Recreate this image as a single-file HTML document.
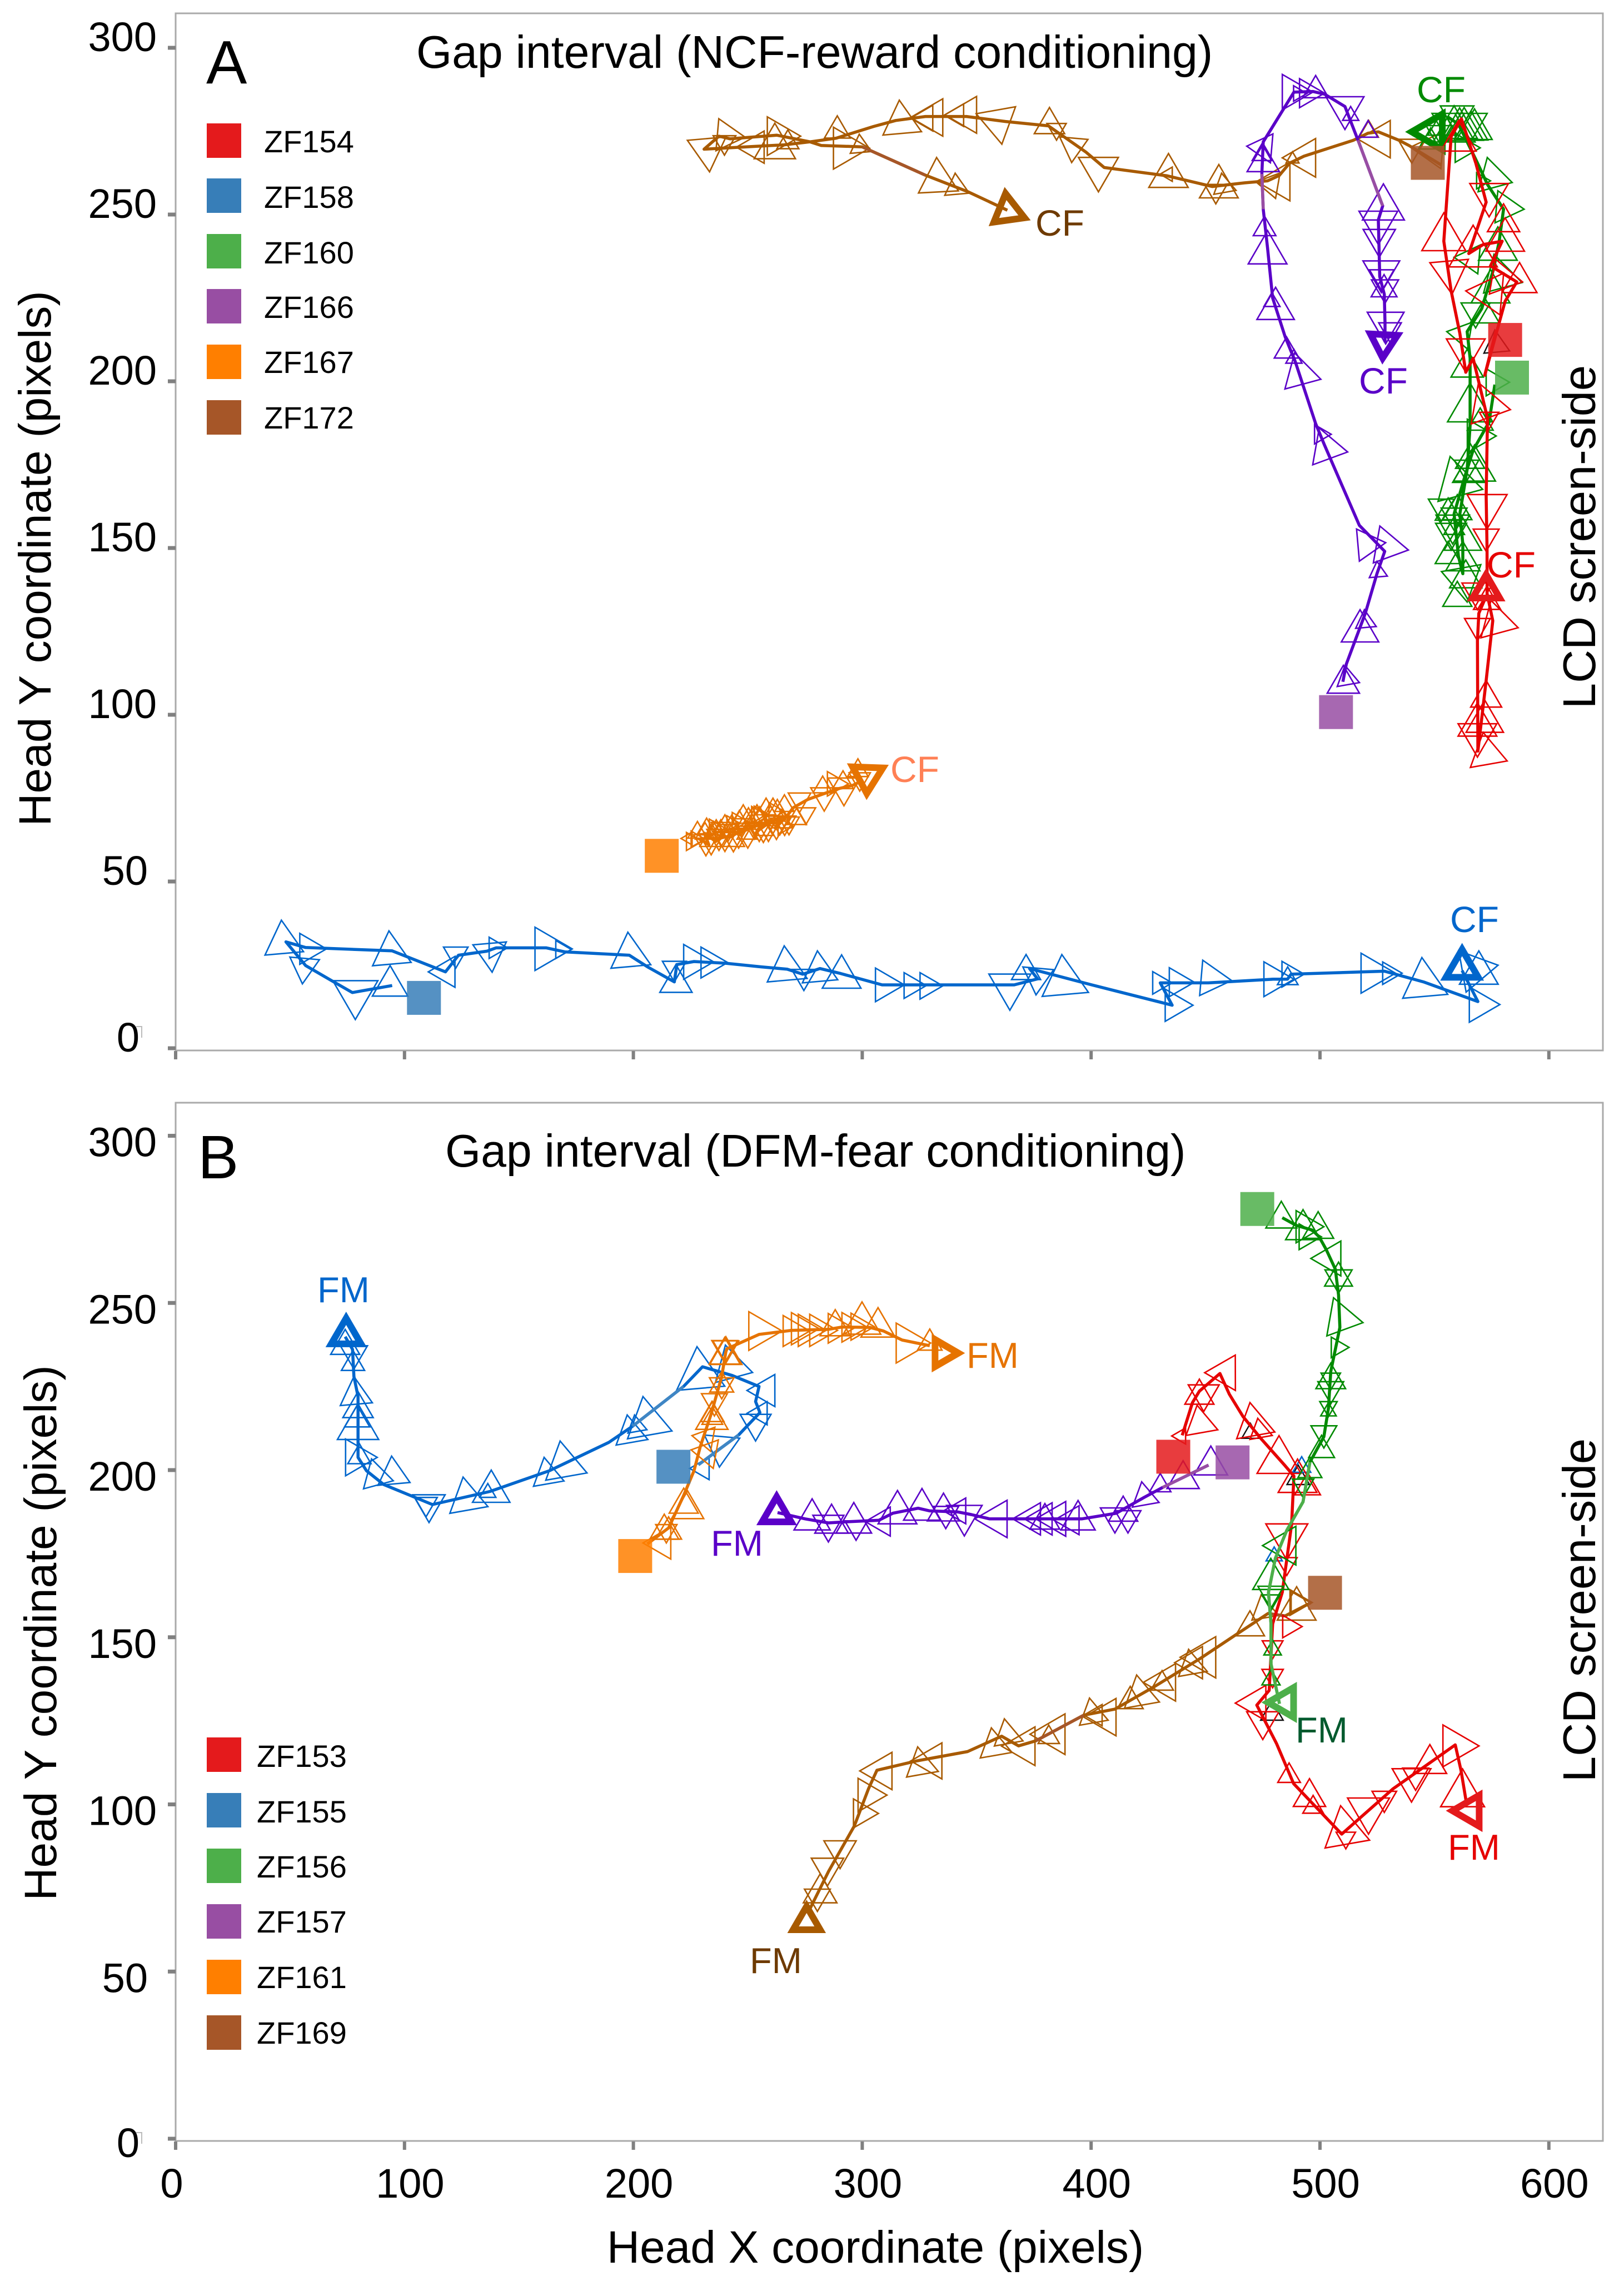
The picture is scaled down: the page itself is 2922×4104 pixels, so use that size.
<!DOCTYPE html>
<html lang="en">
<head>
<meta charset="utf-8">
<title>Head trajectories during gap interval</title>
<style>
html,body{margin:0;padding:0;background:#fff;}
svg{display:block;}
text{font-family:"Liberation Sans",sans-serif;fill:#000;}
</style>
</head>
<body>
<svg id="chart" xmlns="http://www.w3.org/2000/svg" width="2922" height="4104" viewBox="0 0 2922 4104">
<rect x="0" y="0" width="2922" height="4104" fill="#fff"/>

<g id="panelA">
<rect x="316" y="24" width="2568" height="1866" fill="none" stroke="#aaaaaa" stroke-width="3"/>
<g id="axesA"></g>
<g id="marksA"></g>
<text x="371" y="150" font-size="110">A</text>
<text x="749" y="122" font-size="82.4">Gap interval (NCF-reward conditioning)</text>
<text transform="translate(91,1005) rotate(-90)" text-anchor="middle" font-size="82">Head Y coordinate (pixels)</text>
<text transform="translate(2870,966) rotate(-90)" text-anchor="middle" font-size="83">LCD screen-side</text>
<g font-size="56">
<rect x="372" y="222" width="62" height="62" fill="#e41a1c"/><text x="475" y="274">ZF154</text>
<rect x="372" y="321" width="62" height="62" fill="#377eb8"/><text x="475" y="374">ZF158</text>
<rect x="372" y="421" width="62" height="62" fill="#4daf4a"/><text x="475" y="474">ZF160</text>
<rect x="372" y="520" width="62" height="62" fill="#984ea3"/><text x="475" y="572">ZF166</text>
<rect x="372" y="620" width="62" height="62" fill="#ff7f00"/><text x="475" y="671">ZF167</text>
<rect x="372" y="720" width="62" height="62" fill="#a65628"/><text x="475" y="771">ZF172</text>
</g>
<g font-size="66">
<text x="2609" y="1677" style="fill:#0066cc">CF</text>
<text x="1602" y="1407" style="fill:#ff8055">CF</text>
<text x="1863" y="424" style="fill:#6e3a00">CF</text>
<text x="2549" y="184" style="fill:#008a00">CF</text>
<text x="2445" y="708" style="fill:#5a00c8">CF</text>
<text x="2675" y="1039" style="fill:#e60000">CF</text>
</g>
</g>

<g id="panelB">
<rect x="316" y="1984" width="2568" height="1868" fill="none" stroke="#aaaaaa" stroke-width="3"/>
<g id="axesB"></g>
<g id="marksB"></g>
<text x="356" y="2120" font-size="110">B</text>
<text x="801" y="2099" font-size="82.4">Gap interval (DFM-fear conditioning)</text>
<text transform="translate(101,2938) rotate(-90)" text-anchor="middle" font-size="82">Head Y coordinate (pixels)</text>
<text transform="translate(2870,2897) rotate(-90)" text-anchor="middle" font-size="83">LCD screen-side</text>
<text x="1575" y="4071" text-anchor="middle" font-size="82">Head X coordinate (pixels)</text>
<g font-size="56">
<rect x="372" y="3126" width="62" height="62" fill="#e41a1c"/><text x="462" y="3179">ZF153</text>
<rect x="372" y="3226" width="62" height="62" fill="#377eb8"/><text x="462" y="3279">ZF155</text>
<rect x="372" y="3326" width="62" height="62" fill="#4daf4a"/><text x="462" y="3378">ZF156</text>
<rect x="372" y="3426" width="62" height="62" fill="#984ea3"/><text x="462" y="3477">ZF157</text>
<rect x="372" y="3526" width="62" height="62" fill="#ff7f00"/><text x="462" y="3577">ZF161</text>
<rect x="372" y="3626" width="62" height="62" fill="#a65628"/><text x="462" y="3677">ZF169</text>
</g>
<g font-size="65">
<text x="571" y="2343" style="fill:#0066cc">FM</text>
<text x="1739" y="2461" style="fill:#e67300">FM</text>
<text x="1279" y="2799" style="fill:#5a00c8">FM</text>
<text x="2331" y="3135" style="fill:#005a2e">FM</text>
<text x="2605" y="3346" style="fill:#e60000">FM</text>
<text x="1349" y="3550" style="fill:#6e3a00">FM</text>
</g>
</g>
</svg>

<script>
/* ---------- axis data ---------- */
const xTickValues = [0,100,200,300,400,500,600];
const yTickValues = [0,50,100,150,200,250,300];
const xTickLabels = ['0','100','200','300','400','500','600'];
const yTickLabels = ['0','50','100','150','200','250','300'];

/* ---------- start squares ---------- */
const panelAIds = ['zf154','zf158','zf160','zf166','zf167','zf172'];
const panelAStartX = [580.9,108.5,583.9,507,212.4,547.1];
const panelAStartY = [212.4,15.1,201.1,100.8,57.7,265.5];
const panelBIds = ['zf153','zf155','zf156','zf157','zf161','zf169'];
const panelBStartX = [435.9,217.5,472.6,461.8,200.8,502.2];
const panelBStartY = [204,201,278.1,202.3,174.3,163.3];

/* ---------- panel A trajectories: head x, head y ---------- */
const zf158X = [94.6,77.2,68.1,56.8,48.2,56.8,94.6,117.9,123.6,136,140,162,170,198.2,206.2,217.9,219,226.5,240.1,255.9,267.2,274,281.5,290.6,308.7,366.4,376.6,373.1,400.3,435.4,430.2,451.2,479.5,485.8,487.4,528.2,545.2,569,562.1];
const zf158Y = [18.8,16.7,20.3,24.8,31.9,30.2,29.2,22.9,27.9,29.1,30.1,30.1,28.9,27.9,24.4,19.9,25.1,26,25.5,24.4,23.7,22.2,23.9,22.4,19,19,20.8,23.9,19,12.9,19.6,19.6,20.7,20.7,22.2,23.1,19.9,14,23.3];
/* arrows: x, y, heading (deg), speed */
const zf158Arrows = [[46.2,38.4,95,60],[65.9,29.8,0,48],[55.4,19.3,-95,46],[78.5,8.6,-90,70],[93.7,24.8,90,55],[93.2,35.2,95,60],[110.4,22.9,180,48],[122.4,24,-90,38],[138.3,22.8,-85,52],[145,30.1,0,33],[173.3,29.8,0,67],[172.9,29.6,0,28],[197.6,34.8,95,62],[218.6,25.1,90,50],[217.9,19.9,-90,37],[235.1,25.9,0,54],[241.2,25.7,0,48],[265.9,30.7,95,62],[274.5,17.3,-90,38],[280.4,29.2,95,55],[291,28,90,60],[318.4,19,0,52],[328,18.8,0,40],[335.2,18.7,0,41],[364.5,11.4,-90,65],[371.6,28.1,90,45],[375.9,16,-95,48],[387.2,28.1,95,72],[435.4,19.6,0,35],[445.1,19.8,0,45],[444.5,12.9,0,50],[461.4,20.3,-5,55],[488.6,20.7,0,54],[493.1,22.2,0,40],[485.9,24.4,90,32],[533,22.5,0,62],[535.9,22.5,0,35],[544.5,27.2,95,70],[577.8,24.9,10,65],[569.4,29.2,90,60],[578.6,13.1,0,55]];
const zf158End = [562.1,29.6,90,50];

const zf167X = [228.9,233,231,236,240,238,244,249,246,253,257,254,260,264,262,267,269.8,276.2,283.5,290,295.7,300.5];
const zf167Y = [62.9,61,64.5,62,65,63,64,66,64.5,66.5,67.5,65,68,69,66,69.5,72.1,74.6,76.4,77.9,78.8,80.4];
const zf167Arrows = [[220.8,62.9,180,20],[231.3,62.7,0,25],[231.3,67.7,90,30],[236.2,68.5,90,32],[238.2,68.5,90,32],[246.7,67.4,0,24],[246.3,71.3,90,32],[250.3,72.1,90,33],[259.6,69.9,0,28],[262.9,74.6,90,30],[272.6,70.7,-90,35],[271.4,72.1,90,30],[282.7,81.6,90,30],[294,79.3,0,38],[292,72.7,-90,50],[291.6,83.2,90,32],[298.1,86.8,90,32],[298.9,77.1,-90,33],[283.4,71.1,-90,42],[262.5,62.6,-90,35],[266.1,63.8,-90,35],[256.8,61.7,-90,30],[243.7,58.9,-90,40],[231.7,57.7,-90,38],[237.4,59.3,-90,38],[243.9,66,90,33],[233.7,66,90,33],[249.5,67.7,90,30],[256.8,68.8,90,30],[260,72.7,90,30],[264.9,71.6,90,33],[252.8,62.7,-90,30],[247.1,63.8,-90,30],[252,72.1,90,33],[255.2,72.4,90,33],[241.4,62.1,-90,30],[238.2,62.7,-90,30],[269.8,66.6,0,27],[275.4,67.1,-90,30],[228,68,90,30],[240,70,90,32],[243,70,90,30],[248,73,90,33],[254,73,90,32],[258,75,90,30],[261,75,90,32],[266,76,90,30],[235,68,90,30],[232,69,90,28],[234,58,-90,36],[240,59,-90,36],[246,60,-90,34],[250,60,-90,34],[255,62,-90,32],[259,62,-90,32],[264,64,-90,30],[268,64,-90,32],[240,66,0,28],[250,68,0,28],[258,70,0,26],[266,71,0,28],[230,62,0,28]];
const zf167End = [302,76.4,-92,47];

const zf172X = [552.9,538.9,534.4,525.5,521,514.7,493,486.7,482.2,477.1,467,452.9,433.3,405.7,397.6,381.3,362.6,345.5,327.6,314.6,304.9,288.6,277.2,262.6,242.3,237.4,230.9,252,265.8,277.2,282.1,300,327.6,346.3,363.4];
const zf172Y = [264.9,270.7,272.3,274.8,274.4,272.3,267.5,265.4,261.7,260.1,259.5,258.4,261.6,264.1,268.8,276.6,277.9,279.4,279.4,278.2,276.4,272.9,271.8,273.8,272.7,273.5,269.6,270.4,270.9,271.8,270.7,270.3,261.8,256.8,251.3];
const zf172Arrows = [[455.8,265,90,60],[457,262.4,100,35],[454.5,253.2,-90,35],[433.8,268.3,90,61],[430.1,262.1,180,22],[403.2,256.8,-90,62],[391.5,265.6,-95,44],[381.8,282.1,90,47],[384.9,272.3,-90,30],[361,271.1,-80,62],[336.1,279.9,180,57],[335.8,279.8,180,35],[321.1,279.1,180,58],[321.1,278.9,180,40],[316.2,284.3,95,60],[289.1,279.6,90,40],[303.2,269.9,0,65],[298.7,274.1,95,33],[273.1,273.5,0,60],[261.8,277.4,90,64],[267.5,275.4,90,34],[245,270.2,180,50],[248.8,273.2,-5,50],[239.8,267.8,-90,35],[233.3,262.8,-85,60],[332.5,267.1,93,62],[340.6,262.4,95,38],[472,259.8,170,40],[472.3,259.9,180,60],[483.5,267,180,60],[488,268.8,90,20],[521.3,278.2,90,30],[516.6,272.6,180,58],[540.1,265.4,-90,43],[539.5,270.2,175,58]];
const zf172End = [362.6,256.3,98,48];

const zf166X = [510,511.5,519.8,524.9,528.3,517.2,501.9,498.1,489.2,484.8,479.3,477.1,475.2,474.6,475.2,479,488.6,496.9,502,510.9,516.6,527.4,525.5,526.1,528.1,528.4,528.4];
const zf166Y = [109.9,115.2,130.4,142.3,149,156.8,181,187.3,205.9,213.3,225,239.9,251.6,262.2,271.8,276,286.7,286.9,286.1,282.4,272.3,252.6,248.4,231.4,226.1,217.6,211.7];
const zf166Arrows = [[510.2,114.8,90,50],[510.9,114.8,100,35],[517.5,131.5,90,58],[519.4,131.5,95,32],[528.7,151.6,5,50],[538.6,149.4,-10,58],[524.9,146,95,28],[504.9,184.1,0,30],[512.1,178.8,-10,58],[485.4,213.3,90,38],[488.6,209.6,90,25],[500.4,200.6,-15,58],[480.6,228.2,90,58],[479,226.6,90,25],[477.1,245.2,90,60],[475.8,249.5,90,35],[468,270.5,175,45],[475.2,271.2,90,50],[474.6,271.2,90,30],[496.9,286.7,0,55],[494.3,286.3,0,24],[502,286.4,0,45],[498.1,291.7,90,40],[510.9,275.5,-90,59],[513.4,282.4,90,25],[521,278.2,90,30],[527.7,259.2,90,65],[525.5,241,-90,60],[525.9,237.2,-90,50],[526.8,226.6,-90,57],[527,227.1,-90,38],[528,232,90,40],[528.4,223.4,-90,42],[528.7,211.2,-90,57],[530.6,211.7,-90,35]];
const zf166End = [527.4,207,-93,42];

const zf160X = [576.4,573.9,566.9,563,558.6,558.6,560.5,562.4,562.4,561.1,564.3,565.6,565.6,564.3,570.7,575.8,578.3,580.2,573.2,568.1,560.5,556];
const zf160Y = [199,187.8,179.3,170.8,160.2,160.2,147.5,142.3,151.2,160.2,173.6,186.7,206.9,214.9,221.8,233.5,242,251.6,259,266.5,277.1,279.2];
const zf160Arrows = [[559.9,273.9,-90,52],[558.6,282.6,90,65],[563,282.1,90,59],[575.2,272.5,-30,55],[548.4,276,90,38],[553.5,281.3,90,45],[584,259.6,-15,55],[574.5,260.1,0,25],[589.2,251.6,-5,50],[577.7,246.3,90,60],[558.6,237.2,175,45],[574.5,233.5,90,60],[588.3,229.6,-15,62],[555.4,214.9,170,42],[564.3,209.6,90,50],[565.6,199.5,90,70],[582.8,199.7,0,42],[577,183.6,0,52],[565.6,181.4,90,45],[567.5,180.9,90,65],[571.1,167.6,-15,72],[558.6,155.3,-90,40],[558,151.2,-90,52],[557.3,149.4,-90,48],[558.6,159.4,90,32],[562.4,159,90,58],[562.4,152,90,53],[563.7,146.4,90,50],[564.3,133.8,-80,62],[556,272,-90,50],[566,272,-90,50],[561,282,90,55],[566,281,90,52],[552,270,-90,40],[570,270,0,45],[556,165,90,40],[560,166,90,45],[553,158,-90,40],[564,170,-90,38],[560,140,90,45],[556,152,90,40],[565,178,90,50],[570,192,90,40],[568,216,-90,45],[572,225,90,45]];
const zf160End = [540.1,274.8,180,55];

const zf154X = [577,572,580.9,586,574.5,579.6,571.3,565,572.6,568.1,561.8,557.3,554.1,557.3,561.1,563.7,566.9,573.2,572.6,573,573,575.5,572.6,569,568.8,569.4,572.6];
const zf154Y = [215.4,201.8,224,229.8,234.6,242,241,238.3,253.7,265.4,278.7,273.4,242,227.1,214.4,202.7,206.9,188.9,165.5,149.7,136.4,128.2,110.3,89.1,122.2,130.4,135.6];
const zf154Arrows = [[568.8,131.5,-90,48],[573,138.6,90,42],[568.8,122.2,-90,40],[586.6,126.1,-15,60],[572.6,110.3,90,48],[572,104.4,90,58],[568.8,103.6,90,60],[568.8,87.3,-90,60],[571.3,94.7,100,58],[573,155.7,-90,62],[572.6,149,-90,40],[554.1,250.5,90,68],[557.7,226.1,-85,60],[563.7,202.7,-90,60],[580.2,253.2,90,50],[580.9,249,90,60],[573.9,249.3,-90,60],[587.2,235.6,90,54],[563.7,227.1,175,65],[588.5,229.8,-10,55],[566.9,246.8,90,75],[560.5,278.2,90,55],[583.2,191.5,-10,65],[573.9,185.7,-90,30]];
const zf154End = [572.6,142,90,42];
const panelAStrayArrows = [[576.4,215.4,95,40]];

/* ---------- panel B trajectories ---------- */
const zf155X = [228.4,246,255.3,253.4,254.9,243.2,230.2,221.9,199.6,189.3,163.3,137.3,112.2,90.9,83.4,79.7,79.7,79.7,77.9,77.3,74.1];
const zf155Y = [201.6,210.5,217.2,220.5,225,228.3,230.9,225,213.1,208.3,199.8,193.6,189.7,195.7,199.8,203.8,210.2,222,228,236.1,239.9];
const zf155Arrows = [[74.1,242.1,90,45],[77.9,230.2,-90,42],[77.5,235.8,90,36],[77.9,228,95,50],[79.7,223.5,90,47],[79.3,219.4,90,39],[79.7,219.8,90,64],[88.1,203.8,0,57],[80.3,207.9,90,36],[95.1,196.8,-15,48],[102.4,196.3,-25,50],[110.7,184.3,-90,50],[109.4,186,-90,35],[125.6,197.9,100,60],[137.9,200,90,58],[136.4,196,90,25],[161,203.8,100,48],[168,208.7,100,65],[197.3,216.5,100,50],[204.2,222,100,70],[200.5,216.5,100,30],[227.8,236.9,95,75],[252.1,229.2,-15,60],[261.8,228.6,60,50],[249.7,217,180,36],[253.4,208.7,-90,48],[237.6,200.9,-95,55],[224.6,200.5,180,35],[492,204,90,28],[480,177,90,25]];
const zf155End = [74.5,245.4,90,46];

const zf161X = [206.1,215.4,221.9,226.5,229.3,234,238.6,240.4,240.9,255,269.1,285.2,291.2,303.3,309.3,317.4,329.5];
const zf161Y = [177.9,182.7,192.3,199.8,207.2,216.8,228,235.4,236.3,240.6,241.8,242.1,242.8,242.7,241.6,238.9,237.2];
const zf161Arrows = [[204.2,178.2,180,50],[213.5,186.8,90,45],[215.4,186,90,40],[214.4,178.2,-90,33],[222,194.6,90,45],[223.7,193.8,90,50],[234.9,200.5,-70,45],[234.3,220.5,90,50],[234.5,219,90,32],[234.5,220.5,90,36],[225.6,210.3,170,38],[235.4,216.2,-90,40],[238.6,229.5,90,37],[238.6,221.3,-90,38],[240.4,239.9,90,50],[240.4,232,-90,40],[239.9,239.7,90,48],[239.9,232.1,-90,40],[265,241.6,0,60],[277.1,241.6,0,48],[281.2,242.3,0,50],[284.2,241.8,0,50],[289.2,241.8,0,50],[296.3,242.4,0,46],[302.3,242.7,0,46],[305.3,242.9,0,42],[299.9,250.3,90,58],[306.9,248.6,90,53],[288.2,248,90,47],[329.9,238,0,62],[329.5,242.2,90,38],[339.5,235,0,30]];
const zf161End = [342,235,0,42];

const zf157X = [451.3,431.2,423.1,411,395.9,355.7,347.6,341.6,329.5,324.4,313.4,307.3,295.2,285.2,275.1,263];
const zf157Y = [201.5,194.8,191.8,187.1,185.4,185.4,186.7,187.5,187.8,188.6,187.1,185,184.6,184.2,185.4,187.3];
const zf157Arrows = [[278.1,191.4,90,56],[286.6,189.8,90,52],[296.3,190.3,90,55],[285.2,178.5,-90,48],[297.3,179,-90,35],[301.3,184.6,180,45],[315.4,193.9,90,60],[326.1,194.5,90,57],[335.5,193.1,90,50],[336.5,182.5,-90,40],[335.5,187.8,180,40],[344.6,180.3,-90,55],[349.2,185.4,180,58],[365.7,185.4,180,50],[370.8,185.4,180,50],[375.8,185.4,180,54],[383.8,185,180,45],[379.8,190,90,46],[394.3,190.9,90,53],[410.4,181.2,-90,45],[416.1,181.2,-90,40],[414,192.2,90,45],[422.1,196.5,100,42],[430.2,199,90,33],[440.2,202.8,90,50],[452.3,207.2,90,52]];
const zf157End = [262.6,192,90,45];

const zf153X = [439.8,444.3,447.3,456.3,460.4,466.4,474.5,484.5,488.6,487.6,483.5,479.3,477.8,472.4,481,488.5,509.5,531.8,559.1,561.6,564.1];
const zf153Y = [210.4,220.2,223.6,228.9,222.7,216,209.2,201.5,198.2,183.7,163.4,154,134.1,129.7,118.2,106.2,91.1,104.6,117.8,110.2,99.9];
const zf153Arrows = [[463,234.4,60,55],[447.3,227.2,90,45],[449.2,217.5,-90,48],[446.3,219.4,100,50],[435.2,210.2,180,25],[469.4,220.2,100,60],[472.8,215.5,100,35],[482.1,210.3,90,68],[490.2,203.3,90,60],[500.2,192.6,-30,40],[485.5,173.1,-90,65],[485.5,168.5,-90,32],[492.2,153.2,0,35],[479.3,143.6,-90,32],[479.3,134.9,-90,33],[463,130.3,180,55],[475,119.4,-90,50],[486.5,112.4,90,35],[495.4,107.7,90,50],[497,102.7,90,32],[509,99.6,100,70],[511.3,86.7,-90,30],[521.2,91.1,-90,65],[528.1,97.6,-90,38],[540,100.7,-90,60],[541.8,104.2,-90,40],[548,117.9,90,52],[569.5,117.5,0,65],[562.3,110.6,90,68]];
const zf153End = [557.9,98.1,180,48];

const zf156X = [483.5,489.6,496.6,499.6,502.7,506.7,508.1,508.7,504.7,503.7,501.7,495.6,492.6,485.5,480.5,477.5,478.6,478.6,482.3];
const zf156Y = [275.5,273.2,271.8,269.8,266,260.1,252.4,242.7,229.5,218.5,210,202.4,190.5,182,173.6,163.4,154,142,130.1];
const zf156Arrows = [[483.1,280.4,90,48],[492.6,277.9,90,54],[499.2,277.3,90,48],[501.7,272.8,0,50],[500.6,269.8,0,40],[496,263.3,180,54],[508.1,262.2,90,43],[508.1,252.9,-90,42],[518.8,244.1,-10,60],[512.7,236.7,0,32],[504.7,232,90,46],[504.7,224,-90,30],[504.7,219.8,-90,40],[503.7,216,-90,27],[503.7,220.2,90,24],[501.7,206.6,-90,40],[500.7,210.4,90,40],[495.6,203.9,90,37],[492.6,191.8,-90,33],[474.9,177.4,180,60],[478.5,173.6,90,56],[478.5,158.6,-90,40],[478.6,158,-90,28],[479.3,149.2,90,27],[478.6,140.4,90,28]];
const zf156End = [477.3,130.5,180,46];

const zf169X = [495.9,484.8,477.3,462.5,447.6,427.8,410.4,396.8,375.8,368.3,360.9,346,323.7,306.4,302.7,296.5,285.3,276.6];
const zf169Y = [160.3,156.4,157.1,150.4,143.6,135.3,128.5,126.7,119,117.5,120.4,115.8,113,110.2,104.6,93.5,80,68];
const zf169Arrows = [[280.4,68,-90,40],[281.6,79.2,90,52],[284.8,75.6,-90,50],[290.3,80.8,-90,50],[307.1,97.3,0,45],[310.8,102.8,0,52],[298.9,110,180,58],[324.2,117.2,100,50],[321.2,113,180,56],[356.4,122.9,100,50],[362.1,125.6,100,45],[360.9,117.4,180,60],[381.5,123.7,90,33],[373.3,121,180,63],[399.3,131.8,100,45],[396.8,126.1,180,58],[396.8,126.7,180,33],[417.1,135.3,90,40],[419.9,138.7,100,55],[431,140,90,35],[422.8,136.5,180,58],[442.6,146.4,100,45],[436.5,142.4,180,50],[438.9,144,180,64],[469.4,157.9,90,45],[474.3,162.7,100,42],[489.8,165.1,90,60],[495.9,160.3,0,35],[496.6,160.4,0,40]];
const zf169End = [275.7,69.5,90,42];
const panelBStrayArrows = [[469.6,214,90,27],[490.5,201.5,90,35],[479,131,90,35],[479.3,143.6,-90,32]];

/* ---------- drawing ---------- */
const SVG_NS = 'http://www.w3.org/2000/svg';
const xScale = v => 316 + 4.118 * v;
const yScaleA = v => 1886 - 6 * v;
const yScaleB = v => 3848 - 6.015 * v;

const seriesStylesA = [
  {id:'zf172', color:'#a85a00', xs:zf172X, ys:zf172Y, arrows:zf172Arrows, end:zf172End, overlays:[[31,32,'#a65628']]},
  {id:'zf158', color:'#0066cc', xs:zf158X, ys:zf158Y, arrows:zf158Arrows, end:zf158End, overlays:[]},
  {id:'zf167', color:'#e67300', xs:zf167X, ys:zf167Y, arrows:zf167Arrows, end:zf167End, overlays:[]},
  {id:'zf166', color:'#5a00c8', xs:zf166X, ys:zf166Y, arrows:zf166Arrows, end:zf166End, overlays:[[12,13,'#984ea3'],[20,21,'#984ea3']]},
  {id:'zf160', color:'#008a00', xs:zf160X, ys:zf160Y, arrows:zf160Arrows, end:zf160End, overlays:[]},
  {id:'zf154', color:'#e60000', xs:zf154X, ys:zf154Y, arrows:zf154Arrows, end:zf154End, overlays:[], endColor:'#e41a1c'}
];
const seriesStylesB = [
  {id:'zf169', color:'#a85a00', xs:zf169X, ys:zf169Y, arrows:zf169Arrows, end:zf169End, overlays:[[1,2,'#a65628'],[7,8,'#a65628']]},
  {id:'zf155', color:'#0066cc', xs:zf155X, ys:zf155Y, arrows:zf155Arrows, end:zf155End, overlays:[[0,1,'#3f86c4'],[7,8,'#3f86c4']]},
  {id:'zf161', color:'#e67300', xs:zf161X, ys:zf161Y, arrows:zf161Arrows, end:zf161End, overlays:[]},
  {id:'zf157', color:'#5a00c8', xs:zf157X, ys:zf157Y, arrows:zf157Arrows, end:zf157End, overlays:[[0,1,'#984ea3']]},
  {id:'zf153', color:'#e60000', xs:zf153X, ys:zf153Y, arrows:zf153Arrows, end:zf153End, overlays:[], endColor:'#e41a1c'},
  {id:'zf156', color:'#008a00', xs:zf156X, ys:zf156Y, arrows:zf156Arrows, end:zf156End, overlays:[[11,18,'#4daf4a']], endColor:'#4daf4a'}
];

function svgEl(tag) { return document.createElementNS(SVG_NS, tag); }

function trianglePoints(rec, yScale) {
  const tipX = xScale(rec[0]);
  const tipY = yScale(rec[1]);
  const a = rec[2] * Math.PI / 180;
  const L = rec[3];
  const dx = Math.cos(a), dy = -Math.sin(a);
  const bx = tipX - L * dx, by = tipY - L * dy;
  const hw = L * 0.58;
  return [tipX, tipY, bx - dy * hw, by + dx * hw, bx + dy * hw, by - dx * hw]
    .map(n => n.toFixed(1)).join(' ');
}

function drawAxes(host, yScale, panel, withXLabels) {
  xTickValues.forEach((v, i) => {
    const t = svgEl('rect');
    
    
    t.setAttribute('x', xScale(v) - 3);
    t.setAttribute('y', panel === 'panel-a' ? 1891 : 3853);
    t.setAttribute('width', 6);
    t.setAttribute('height', 15);
    t.setAttribute('fill', '#808080');
    host.appendChild(t);
    if (withXLabels) {
      const lab = svgEl('text');
      
      
      lab.setAttribute('x', xScale(v) + (xTickLabels[i].length > 1 ? 10 : -7));
      lab.setAttribute('y', 3954);
      lab.setAttribute('text-anchor', 'middle');
      lab.setAttribute('font-size', 74);
      lab.textContent = xTickLabels[i];
      host.appendChild(lab);
    }
  });
  yTickValues.forEach((v, i) => {
    const y = yScale(v);
    const t = svgEl('rect');
    
    
    t.setAttribute('x', 302);
    t.setAttribute('y', y - 3.5);
    t.setAttribute('width', 14);
    t.setAttribute('height', 7);
    t.setAttribute('fill', '#808080');
    host.appendChild(t);
    const lab = svgEl('text');
    
    
    const n = yTickLabels[i].length;
    lab.setAttribute('x', n === 3 ? 282 : (n === 2 ? 266 : 251));
    lab.setAttribute('y', y + (panel === 'panel-a' ? 6 : (v === 0 ? 33 : 37)));
    lab.setAttribute('text-anchor', 'end');
    lab.setAttribute('font-size', 74);
    lab.textContent = yTickLabels[i];
    host.appendChild(lab);
  });
  const nick = svgEl('path');
  
  
  const ny = yScale(0) - (panel === 'panel-a' ? 39 : 11);
  nick.setAttribute('d', 'M245 ' + ny + ' H255 V' + (ny + 20));
  nick.setAttribute('fill', 'none');
  nick.setAttribute('stroke', '#bbbbbb');
  nick.setAttribute('stroke-width', 2);
  host.appendChild(nick);
}

function drawSeries(host, s, yScale) {
  const g = svgEl('g');
  
  
  s.arrows.forEach(rec => {
    const tri = svgEl('polygon');
    
    
    tri.setAttribute('points', trianglePoints(rec, yScale));
    tri.setAttribute('fill', 'none');
    tri.setAttribute('stroke', s.color);
    tri.setAttribute('stroke-width', 2.6);
    g.appendChild(tri);
  });
  const line = svgEl('polyline');
  
  
  line.setAttribute('points', s.xs.map((x, i) => xScale(x).toFixed(1) + ',' + yScale(s.ys[i]).toFixed(1)).join(' '));
  line.setAttribute('fill', 'none');
  line.setAttribute('stroke', s.color);
  line.setAttribute('stroke-width', 5.5);
  line.setAttribute('stroke-linejoin', 'round');
  g.appendChild(line);
  s.overlays.forEach(o => {
    const seg = svgEl('polyline');
    
    
    const pts = [];
    for (let i = o[0]; i <= o[1]; i++) pts.push(xScale(s.xs[i]).toFixed(1) + ',' + yScale(s.ys[i]).toFixed(1));
    seg.setAttribute('points', pts.join(' '));
    seg.setAttribute('fill', 'none');
    seg.setAttribute('stroke', o[2]);
    seg.setAttribute('stroke-width', 5.5);
    g.appendChild(seg);
  });
  const endTri = svgEl('polygon');
  
  
  endTri.setAttribute('points', trianglePoints(s.end, yScale));
  endTri.setAttribute('fill', 'none');
  endTri.setAttribute('stroke', s.endColor || s.color);
  endTri.setAttribute('stroke-width', 12);
  g.appendChild(endTri);
  host.appendChild(g);
}

function drawStray(host, list, yScale, panel) {
  list.forEach(rec => {
    const tri = svgEl('polygon');
    
    
    tri.setAttribute('points', trianglePoints(rec, yScale));
    tri.setAttribute('fill', 'none');
    tri.setAttribute('stroke', '#111111');
    tri.setAttribute('stroke-width', 2.4);
    host.appendChild(tri);
  });
}

const squareColors = {zf154:'#e41a1c',zf158:'#377eb8',zf160:'#4daf4a',zf166:'#984ea3',zf167:'#ff7f00',zf172:'#a65628',
                      zf153:'#e41a1c',zf155:'#377eb8',zf156:'#4daf4a',zf157:'#984ea3',zf161:'#ff7f00',zf169:'#a65628'};

function drawSquares(host, ids, xs, ys, yScale) {
  ids.forEach((id, i) => {
    const r = svgEl('rect');
    
    
    r.setAttribute('x', xScale(xs[i]) - 30.5);
    r.setAttribute('y', yScale(ys[i]) - 30.5);
    r.setAttribute('width', 61);
    r.setAttribute('height', 61);
    r.setAttribute('fill', squareColors[id]);
    r.setAttribute('fill-opacity', 0.85);
    host.appendChild(r);
  });
}

const marksA = document.getElementById('marksA');
const marksB = document.getElementById('marksB');
drawAxes(document.getElementById('axesA'), yScaleA, 'panel-a', false);
drawAxes(document.getElementById('axesB'), yScaleB, 'panel-b', true);
drawStray(marksA, panelAStrayArrows, yScaleA, 'panel-a');
seriesStylesA.forEach(s => drawSeries(marksA, s, yScaleA));
drawSquares(marksA, panelAIds, panelAStartX, panelAStartY, yScaleA);
drawStray(marksB, panelBStrayArrows, yScaleB, 'panel-b');
seriesStylesB.forEach(s => drawSeries(marksB, s, yScaleB));
drawSquares(marksB, panelBIds, panelBStartX, panelBStartY, yScaleB);
</script>
</body>
</html>
